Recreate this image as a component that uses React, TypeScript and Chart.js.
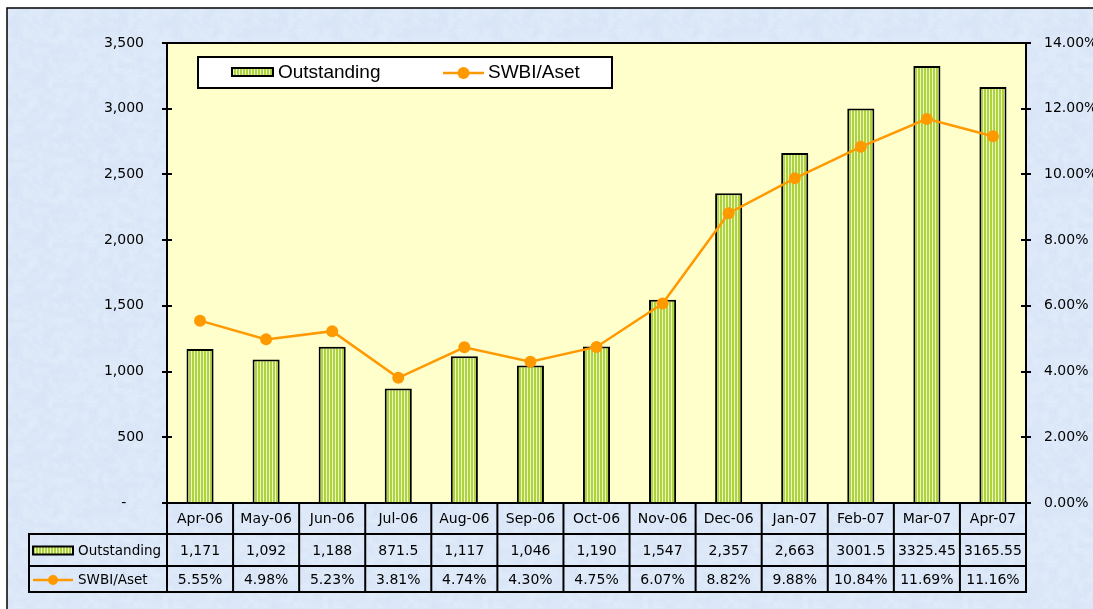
import React, { useEffect, useRef } from 'react';
import { Chart, registerables } from 'chart.js';

Chart.register(...registerables);

const categories = ['Apr-06', 'May-06', 'Jun-06', 'Jul-06', 'Aug-06', 'Sep-06', 'Oct-06', 'Nov-06', 'Dec-06', 'Jan-07', 'Feb-07', 'Mar-07', 'Apr-07'];
const outstanding = [1171, 1092, 1188, 871.5, 1117, 1046, 1190, 1547, 2357, 2663, 3001.5, 3325.45, 3165.55];
const swbiAset = [5.55, 4.98, 5.23, 3.81, 4.74, 4.3, 4.75, 6.07, 8.82, 9.88, 10.84, 11.69, 11.16];
const seriesNames = ['Outstanding', 'SWBI/Aset'];

const fmtOutstanding = (v: number) => (Number.isInteger(v) ? v.toLocaleString('en-US') : String(v));
const fmtPct = (v: number) => v.toFixed(2) + '%';

const ORANGE = '#FF9900';
const GREEN = '#ACD23E';
const LIGHT = '#EEF7C4';

function makeStripe(): CanvasPattern | string {
  const c = document.createElement('canvas');
  c.width = 3;
  c.height = 4;
  const g = c.getContext('2d');
  if (!g) return GREEN;
  g.fillStyle = GREEN;
  g.fillRect(0, 0, 2, 4);
  g.fillStyle = LIGHT;
  g.fillRect(2, 0, 1, 4);
  const p = g.createPattern(c, 'repeat');
  return p || GREEN;
}

function hash(x: number, y: number): number {
  let n = Math.imul(x, 374761393) + Math.imul(y, 668265263);
  n = Math.imul(n ^ (n >>> 13), 1274126177);
  n = n ^ (n >>> 16);
  return (n >>> 0) / 4294967295;
}

function makeTexture(): CanvasPattern | string {
  const S = 160;
  const c = document.createElement('canvas');
  c.width = S;
  c.height = S;
  const g = c.getContext('2d');
  if (!g) return '#DCE8F8';
  const img = g.createImageData(S, S);
  const cell = 5;
  const N = S / cell;
  const vn = (x: number, y: number) => {
    const gx = Math.floor(x / cell), gy = Math.floor(y / cell);
    const fx = (x % cell) / cell, fy = (y % cell) / cell;
    const a = hash(gx % N, gy % N), b = hash((gx + 1) % N, gy % N);
    const cc = hash(gx % N, (gy + 1) % N), d = hash((gx + 1) % N, (gy + 1) % N);
    const top = a + (b - a) * fx;
    const bot = cc + (d - cc) * fx;
    return top + (bot - top) * fy;
  };
  for (let y = 0; y < S; y++) {
    for (let x = 0; x < S; x++) {
      const v = vn(x, y) * 0.6 + hash(x + 1000, y + 77) * 0.4;
      const t = (v - 0.5) * 14;
      const i = (y * S + x) * 4;
      img.data[i] = 220 + t;
      img.data[i + 1] = 232 + t * 0.8;
      img.data[i + 2] = 248 + t * 0.3;
      img.data[i + 3] = 255;
    }
  }
  g.putImageData(img, 0, 0);
  return g.createPattern(c, 'repeat') || '#DCE8F8';
}

const TABLE_LEFT = 29;
const ROW_H = [31, 32, 26];
const TABLE_FONT = '14px "DejaVu Sans"';
const TABLE_LEG_FONT = '13.5px "DejaVu Sans"';
const LEGEND_FONT = '19px "Liberation Sans"';

export default function App() {
  const ref = useRef<HTMLCanvasElement | null>(null);

  useEffect(() => {
    if (!ref.current) return;
    const stripe = makeStripe();
    const texture = makeTexture();

    const drawBarSwatch = (ctx: CanvasRenderingContext2D, x: number, y: number, w: number, h: number) => {
      ctx.fillStyle = stripe as any;
      ctx.fillRect(x, y, w, h);
      ctx.strokeStyle = '#000';
      ctx.lineWidth = 2;
      ctx.strokeRect(x, y, w, h);
    };
    const drawLineSwatch = (ctx: CanvasRenderingContext2D, x: number, y: number, w: number, r: number) => {
      ctx.strokeStyle = ORANGE;
      ctx.lineWidth = 2.5;
      ctx.beginPath();
      ctx.moveTo(x, y);
      ctx.lineTo(x + w, y);
      ctx.stroke();
      ctx.fillStyle = ORANGE;
      ctx.beginPath();
      ctx.arc(x + w / 2, y, r, 0, Math.PI * 2);
      ctx.fill();
    };

    const framePlugin = {
      id: 'frame',
      beforeDraw(chart: any) {
        const { ctx, width, height, chartArea: a } = chart;
        ctx.save();
        ctx.fillStyle = '#fff';
        ctx.fillRect(0, 0, width, height);
        ctx.fillStyle = texture as any;
        ctx.fillRect(7, 8, width - 7, height - 8);
        ctx.strokeStyle = '#000';
        ctx.lineWidth = 1.5;
        ctx.beginPath();
        ctx.moveTo(7, height);
        ctx.lineTo(7, 8);
        ctx.lineTo(width, 8);
        ctx.stroke();
        ctx.fillStyle = '#FFFFCC';
        ctx.fillRect(a.left, a.top, a.right - a.left, a.bottom - a.top);
        ctx.restore();
      },
      afterDraw(chart: any) {
        const { ctx, chartArea: a, scales } = chart;
        ctx.save();
        ctx.strokeStyle = '#000';
        ctx.lineWidth = 2;
        ctx.strokeRect(a.left, a.top, a.right - a.left, a.bottom - a.top);
        const yL = scales.y, yR = scales.y1;
        ctx.beginPath();
        yL.ticks.forEach((t: any) => {
          const py = Math.round(yL.getPixelForValue(t.value));
          ctx.moveTo(a.left - 5, py);
          ctx.lineTo(a.left + 5, py);
        });
        yR.ticks.forEach((t: any) => {
          const py = Math.round(yR.getPixelForValue(t.value));
          ctx.moveTo(a.right - 5, py);
          ctx.lineTo(a.right + 5, py);
        });
        ctx.stroke();

        const n = categories.length;
        const colW = (a.right - a.left) / n;
        const r0 = a.bottom;
        const r1 = r0 + ROW_H[0];
        const r2 = r1 + ROW_H[1];
        const r3 = r2 + ROW_H[2];
        ctx.beginPath();
        [r1, r2, r3].forEach((ry) => {
          ctx.moveTo(TABLE_LEFT, ry);
          ctx.lineTo(a.right + 1, ry);
        });
        for (let i = 0; i <= n; i++) {
          const x = a.left + i * colW;
          ctx.moveTo(x, r0);
          ctx.lineTo(x, r3 + 1);
        }
        ctx.moveTo(TABLE_LEFT, r1 - 1);
        ctx.lineTo(TABLE_LEFT, r3 + 1);
        ctx.stroke();

        ctx.fillStyle = '#000';
        ctx.textAlign = 'center';
        ctx.textBaseline = 'middle';
        ctx.font = TABLE_FONT;
        for (let i = 0; i < n; i++) {
          const cx = scales.x.getPixelForValue(i);
          ctx.fillText(categories[i], cx, (r0 + r1) / 2 + 1);
          ctx.fillText(fmtOutstanding(outstanding[i]), cx, (r1 + r2) / 2 + 1);
          ctx.fillText(fmtPct(swbiAset[i]), cx, (r2 + r3) / 2 + 1);
        }
        drawBarSwatch(ctx, 33, (r1 + r2) / 2 - 3.5, 40, 8);
        drawLineSwatch(ctx, 33, (r2 + r3) / 2 + 1, 40, 5);
        ctx.fillStyle = '#000';
        ctx.textAlign = 'left';
        ctx.font = TABLE_LEG_FONT;
        ctx.fillText(seriesNames[0], 78, (r1 + r2) / 2 + 1);
        ctx.fillText(seriesNames[1], 78, (r2 + r3) / 2 + 1);

        const lx = a.left + 31, ly = a.top + 14, lw = 414, lh = 31;
        ctx.fillStyle = '#fff';
        ctx.fillRect(lx, ly, lw, lh);
        ctx.strokeStyle = '#000';
        ctx.lineWidth = 2;
        ctx.strokeRect(lx, ly, lw, lh);
        drawBarSwatch(ctx, lx + 34, ly + 11, 41, 8);
        drawLineSwatch(ctx, lx + 245, ly + 16, 41, 6);
        ctx.fillStyle = '#000';
        ctx.font = LEGEND_FONT;
        ctx.textAlign = 'left';
        ctx.fillText(seriesNames[0], lx + 80, ly + 16);
        ctx.fillText(seriesNames[1], lx + 290, ly + 16);
        ctx.restore();
      },
    };

    const chart = new Chart(ref.current, {
      type: 'bar',
      data: {
        labels: categories,
        datasets: [
          {
            type: 'line',
            label: seriesNames[1],
            data: swbiAset,
            yAxisID: 'y1',
            borderColor: ORANGE,
            backgroundColor: ORANGE,
            borderWidth: 2.5,
            pointRadius: 6,
            pointHoverRadius: 6,
            pointBackgroundColor: ORANGE,
            pointBorderColor: ORANGE,
            pointBorderWidth: 0,
            tension: 0,
            order: 0,
          } as any,
          {
            type: 'bar',
            label: seriesNames[0],
            data: outstanding,
            yAxisID: 'y',
            backgroundColor: stripe as any,
            borderColor: '#000',
            borderWidth: 2,
            categoryPercentage: 1,
            barPercentage: 0.41,
            order: 1,
          } as any,
        ],
      },
      options: {
        responsive: false,
        animation: false,
        devicePixelRatio: 1,
        layout: { padding: { top: 43, bottom: 106, left: 0, right: 0 } },
        plugins: { legend: { display: false }, tooltip: { enabled: false } },
        events: [],
        scales: {
          x: { display: false, offset: true },
          y: {
            position: 'left',
            min: 0,
            max: 3500,
            ticks: {
              stepSize: 500,
              padding: 15,
              color: '#000',
              font: { family: 'DejaVu Sans', size: 14 },
              callback: (v: any) => (Number(v) === 0 ? '-    ' : Number(v).toLocaleString('en-US')),
            },
            grid: { display: false },
            border: { display: false },
            afterFit: (s: any) => {
              s.width = 167;
            },
          },
          y1: {
            position: 'right',
            min: 0,
            max: 14,
            ticks: {
              stepSize: 2,
              padding: 10,
              color: '#000',
              font: { family: 'DejaVu Sans', size: 14 },
              callback: (v: any) => fmtPct(Number(v)),
            },
            grid: { display: false },
            border: { display: false },
            afterFit: (s: any) => {
              s.width = 67;
            },
          },
        },
      },
      plugins: [framePlugin],
    });
    return () => chart.destroy();
  }, []);

  return (
    <div style={{ position: 'absolute', left: 0, top: 0, width: 1093, height: 609 }}>
      <canvas ref={ref} width={1093} height={609} style={{ display: 'block' }} />
    </div>
  );
}
